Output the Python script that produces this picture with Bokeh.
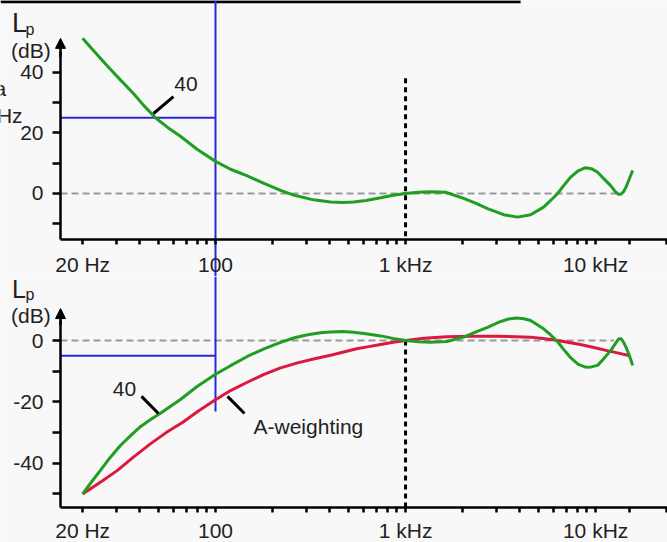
from bokeh.plotting import figure
from bokeh.layouts import column
from bokeh.models import Range1d, FixedTicker, Label, Arrow, NormalHead
from bokeh.embed import file_html
from bokeh.resources import INLINE

# ---------------- data ----------------
top_freq = [20, 22, 24.8, 28, 31.6, 37, 42, 48.3, 56, 65.4, 80, 100, 120, 147, 180, 220, 260,
            328, 403, 470, 532, 620, 739, 860, 1000, 1170, 1354, 1623, 2020, 2350, 2701,
            3279, 3886, 4548, 5325, 5800, 6310, 6850, 7387, 8100, 8854, 9500, 10245, 11000,
            11995, 12700, 13213, 13600, 14040, 14500, 14920, 15300, 15660]
top_green = [51.2, 48.3, 44.6, 41.0, 37.5, 33.0, 29.0, 25.0, 21.8, 18.9, 14.6, 10.6, 8.0, 5.8, 3.3, 1.0, -0.6,
             -2.1, -2.8, -3.0, -2.8, -2.3, -1.4, -0.6, 0, 0.4, 0.6, 0.4, -1.6, -3.3, -5.0,
             -7.0, -7.8, -7.0, -4.5, -2.3, 0, 2.9, 5.4, 7.5, 8.5, 8.2, 7.0, 5.0,
             2.6, 0.6, -0.3, -0.2, 0.6, 2.3, 4.3, 6.0, 7.6]

low_g_freq = [20, 22, 24.8, 28, 31.6, 36, 40.4, 46, 51.6, 58, 65.4, 80, 100, 120, 147, 180, 220,
              260, 306, 356, 403, 467, 532, 620, 739, 860, 1000, 1170, 1354, 1648, 2020, 2350,
              2701, 3100, 3479, 3840, 4200, 4548, 5325, 5800, 6310, 6850, 7387, 8100, 8854,
              9500, 10245, 11000, 11995, 12700, 13213, 13600, 14040, 14500, 14920, 15300, 15660]
low_green = [-50, -46.5, -42.3, -38.0, -34.2, -30.8, -28.0, -25.6, -23.6, -21.4, -19.2, -15.0, -11.0, -8.2, -5.2, -2.7, -0.6,
             0.9, 1.9, 2.5, 2.8, 2.9, 2.7, 2.2, 1.5, 0.7, 0, -0.4, -0.6, -0.3, 1.1, 2.8,
             4.3, 6.0, 7.0, 7.3, 7.1, 6.5, 3.8, 1.8, -0.4, -3.2, -5.6, -7.8, -8.7,
             -8.6, -8.1, -6.0, -3.3, -1.0, 0.5, 0.6, -0.6, -2.4, -4.3, -6.2, -8.1]

low_r_freq = [20, 25, 30.5, 37, 45.6, 55, 67, 82, 100, 120, 147, 180, 220, 270, 328, 403, 467,
              553, 640, 739, 860, 1000, 1250, 1648, 2200, 3049, 4548, 5855, 7000, 8300, 9800,
              11490, 13200, 14920]
low_red = [-50, -46.0, -42.3, -38.0, -33.6, -30.0, -26.7, -22.8, -19.3, -16.3, -13.6, -11.0, -8.9, -7.3, -6.0, -4.8, -3.8,
           -2.7, -2.0, -1.3, -0.6, 0, 0.7, 1.2, 1.4, 1.4, 1.1, 0.3, -0.5, -1.3, -2.3,
           -3.3, -4.1, -4.9]

x_ticks = [20, 30, 40, 50, 60, 70, 80, 90, 100, 200, 300, 400, 500, 600, 700, 800, 900,
           1000, 2000, 3000, 4000, 5000, 6000, 7000, 8000, 9000, 10000, 15000, 23500]
x_tick_labels = {20: "20 Hz", 100: "100", 1000: "1 kHz", 10000: "10 kHz"}

top_y_ticks = [-10, 0, 10, 20, 30, 40]
top_y_labels = {0: "0", 20: "20", 40: "40"}
low_y_ticks = [-50, -40, -30, -20, -10, 0]
low_y_labels = {-40: "-40", -20: "-20", 0: "0"}

# ---------------- styles ----------------
FONT = "Liberation Sans"
TXT = "#222222"
GREEN = "#1f9e22"
RED = "#dc1740"
BLUE = "#2828d6"
BG = "#f8f8f8"
XL, XR = 7.394, 23887      # canvas left / right edge
XA = 15.3                  # where the y axis sits


def style_axes(p, yticks, ylabels, ybounds, xfix, xstandoff):
    xa = p.xaxis[0]
    xa.fixed_location = xfix
    xa.bounds = (XA, XR)
    xa.ticker = FixedTicker(ticks=x_ticks)
    xa.major_label_overrides = {t: x_tick_labels.get(t, "") for t in x_ticks}
    xa.major_tick_in = 0
    xa.major_tick_out = 5
    xa.major_label_standoff = xstandoff
    ya = p.yaxis[0]
    ya.fixed_location = XA
    ya.bounds = ybounds
    ya.ticker = FixedTicker(ticks=yticks)
    ya.major_label_overrides = {t: ylabels.get(t, "") for t in yticks}
    ya.major_tick_in = 0
    ya.major_tick_out = 8
    ya.major_label_standoff = 9
    for ax in (xa, ya):
        ax.minor_tick_in = 0
        ax.minor_tick_out = 0
        ax.axis_line_width = 2.5
        ax.axis_line_color = "black"
        ax.major_tick_line_width = 2.5
        ax.major_tick_line_color = "black"
        ax.major_label_text_font = FONT
        ax.major_label_text_font_size = "21px"
        ax.major_label_text_color = TXT
    p.xgrid.visible = False
    p.ygrid.visible = False
    p.outline_line_color = None
    p.background_fill_color = BG
    p.border_fill_color = BG


def label(p, x, y, text, size="21px", align="left"):
    p.add_layout(Label(x=x, y=y, text=text, text_font=FONT, text_font_size=size,
                       text_color=TXT, text_align=align, text_baseline="alphabetic"))


def make_fig(h, y0, y1):
    return figure(width=667, height=h, x_axis_type="log", x_range=Range1d(XL, XR),
                  y_range=Range1d(y0, y1), toolbar_location=None, output_backend="svg",
                  min_border_left=0, min_border_right=0, min_border_top=0, min_border_bottom=0)


# ---------------- top panel ----------------
Y0T, Y1T = -27.4, 63.7
AX_T = -15.2
p1 = make_fig(276, Y0T, Y1T)
style_axes(p1, top_y_ticks, top_y_labels, (AX_T, 47), AX_T, 8)

p1.segment(x0=[XL], y0=[63.3], x1=[4030], y1=[63.3], line_color="black", line_width=3)
p1.segment(x0=[XA], y0=[0], x1=[13500], y1=[0], line_color="#999999", line_width=2, line_dash="7 4")
p1.segment(x0=[1000], y0=[38], x1=[1000], y1=[AX_T], line_color="black", line_width=3, line_dash="5 4")
p1.segment(x0=[XA], y0=[25], x1=[100], y1=[25], line_color=BLUE, line_width=2)
p1.segment(x0=[100], y0=[Y1T], x1=[100], y1=[Y0T], line_color=BLUE, line_width=2)
p1.line(top_freq, top_green, line_color=GREEN, line_width=3)
p1.add_layout(Arrow(end=NormalHead(size=10, fill_color="black", line_color="black", line_width=1),
                    x_start=XA, y_start=45, x_end=XA, y_end=51.2, line_color="black", line_width=2.5))

label(p1, 8.5, 56.4, "L", size="27px")
label(p1, 10.0, 54.0, "p", size="16px")
label(p1, 8.4, 47.3, "(dB)")
label(p1, 7.93, 34.5, "a", align="right")
label(p1, 9.66, 25.9, "Hz", align="right")
label(p1, 69.9, 36.1, "40", align="center")
p1.segment(x0=[47.2], y0=[26.4], x1=[60.1], y1=[32.0], line_color="black", line_width=3)

# ---------------- lower panel ----------------
Y0L, Y1L = -65.8, 20.85
AX_L = -54.4
p2 = make_fig(266, Y0L, Y1L)
style_axes(p2, low_y_ticks, low_y_labels, (AX_L, 6.5), AX_L, 6)

p2.segment(x0=[XA], y0=[0], x1=[12500], y1=[0], line_color="#999999", line_width=2, line_dash="7 4")
p2.segment(x0=[1000], y0=[0], x1=[1000], y1=[AX_L], line_color="black", line_width=3, line_dash="5 4")
p2.segment(x0=[XA], y0=[-5], x1=[100], y1=[-5], line_color=BLUE, line_width=2)
p2.segment(x0=[100], y0=[Y1L], x1=[100], y1=[-23.1], line_color=BLUE, line_width=2)
p2.line(low_r_freq, low_red, line_color=RED, line_width=3)
p2.line(low_g_freq, low_green, line_color=GREEN, line_width=3)
p2.add_layout(Arrow(end=NormalHead(size=10, fill_color="black", line_color="black", line_width=1),
                    x_start=XA, y_start=5, x_end=XA, y_end=10.4, line_color="black", line_width=2.5))

label(p2, 8.5, 16.9, "L", size="25px")
label(p2, 10.0, 14.9, "p", size="16px")
label(p2, 8.4, 8.0, "(dB)")
label(p2, 33.2, -15.9, "40", align="center")
p2.segment(x0=[40.8], y0=[-18.2], x1=[50.1], y1=[-23.8], line_color="black", line_width=3)
label(p2, 158.5, -27.9, "A-weighting")
p2.segment(x0=[115.7], y0=[-18.2], x1=[142.1], y1=[-23.8], line_color="black", line_width=3)

layout = column(p1, p2, spacing=0)
open("out.html", "w").write(file_html(layout, INLINE))
